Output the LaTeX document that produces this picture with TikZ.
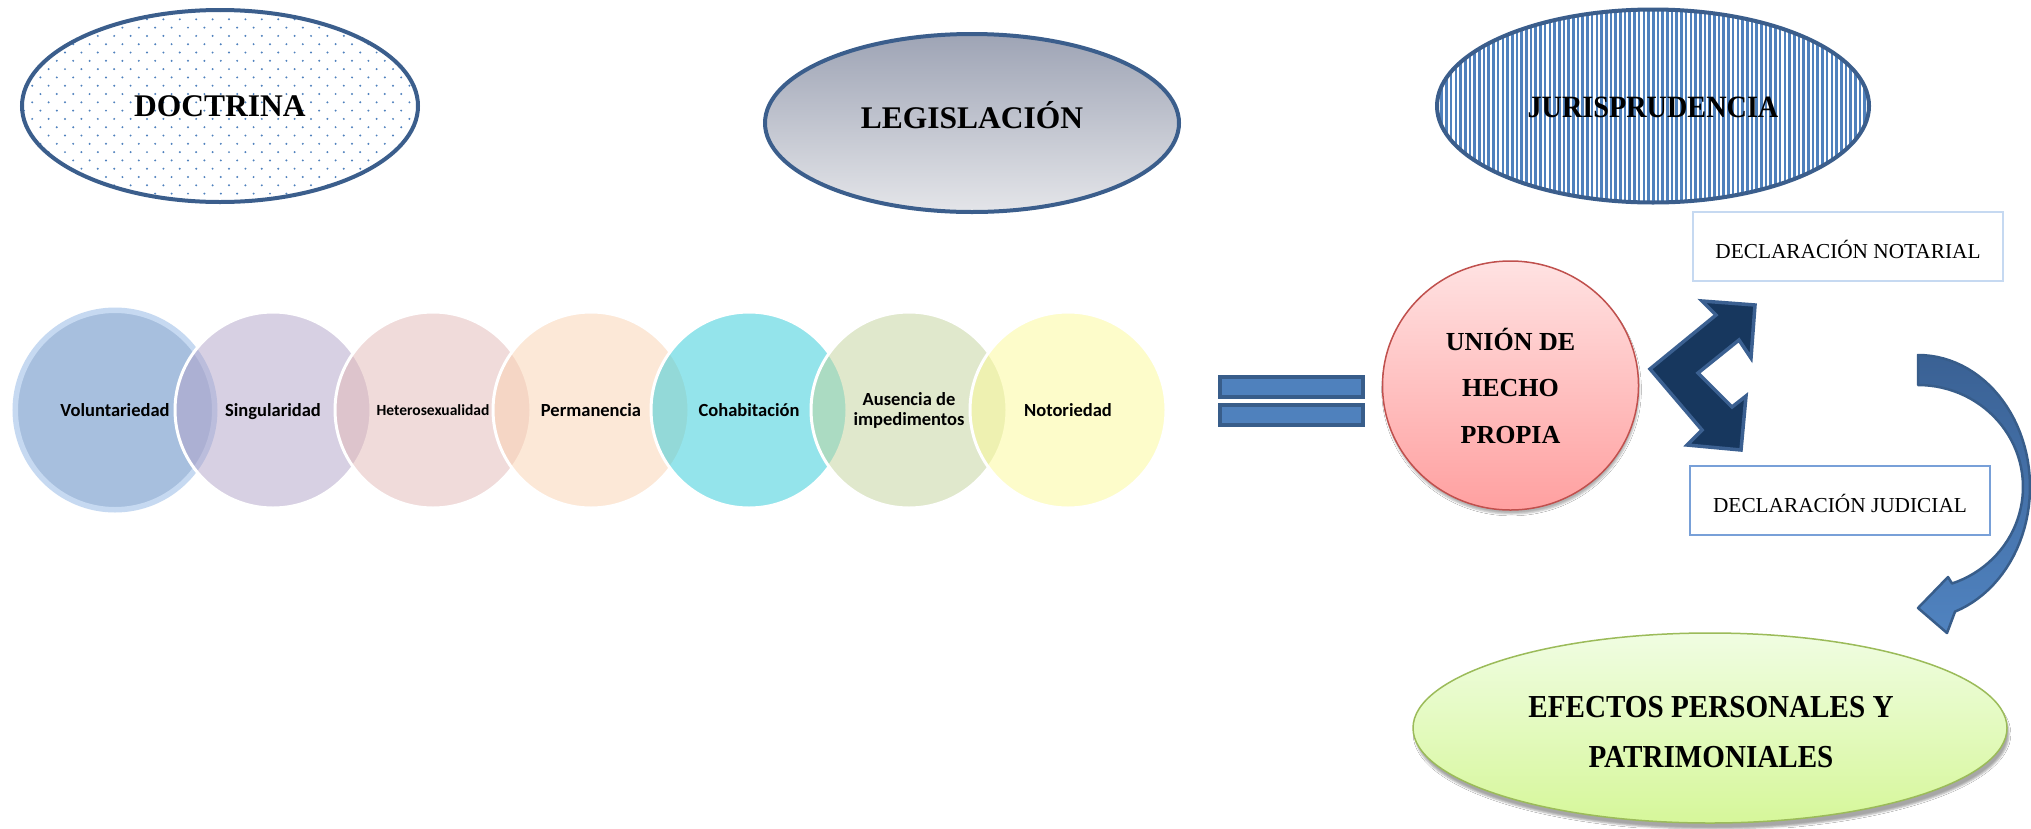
\documentclass[tikz,border=0pt]{standalone}
\usepackage{fontspec}
\setmainfont{Liberation Serif}
\newfontfamily\calfont{Carlito}
\usetikzlibrary{shapes.geometric,shadows.blur,calc}

\definecolor{ebord}{RGB}{59,94,140}
\definecolor{dotc}{RGB}{79,129,189}
\definecolor{stripc}{RGB}{79,129,189}
\definecolor{legtop}{RGB}{158,164,181}
\definecolor{legbot}{RGB}{228,229,233}
\definecolor{volf}{RGB}{167,191,222}
\definecolor{volr}{RGB}{198,217,241}
\definecolor{sinb}{RGB}{177,163,201}
\definecolor{hetb}{RGB}{227,185,183}
\definecolor{perb}{RGB}{251,211,177}
\definecolor{cohb}{RGB}{43,203,217}
\definecolor{ausb}{RGB}{195,211,155}
\definecolor{notb}{RGB}{253,251,151}
\definecolor{boxa}{RGB}{198,217,241}
\definecolor{boxb}{RGB}{120,160,216}
\definecolor{unitop}{RGB}{255,226,226}
\definecolor{unibot}{RGB}{255,160,160}
\definecolor{unibd}{RGB}{192,80,77}
\definecolor{eftop}{RGB}{240,253,226}
\definecolor{efbot}{RGB}{214,247,154}
\definecolor{efbd}{RGB}{155,187,89}
\definecolor{navy}{RGB}{23,55,94}
\definecolor{navybd}{RGB}{59,96,145}
\definecolor{cattop}{RGB}{58,97,148}
\definecolor{catbot}{RGB}{80,131,192}
\definecolor{catbd}{RGB}{56,93,138}
\definecolor{eqf}{RGB}{79,129,189}
\definecolor{eqbd}{RGB}{56,93,138}

\tikzset{
  bigell/.style={ellipse, draw=ebord, line width=4pt, inner sep=0pt, text depth=0pt,
    font=\bfseries\fontsize{31.5}{36}\selectfont},
  venn/.style={circle, inner sep=0pt, minimum size=196pt, draw=white, line width=3pt, fill opacity=0.5},
  vlbl/.style={font=\calfont\bfseries\fontsize{18.5}{20}\selectfont, inner sep=0pt},
  declbox/.style={rectangle, inner sep=0pt, line width=1.5pt, minimum height=69pt,
    text height=24pt, text depth=0pt, font=\fontsize{21.3}{24}\selectfont},
  eqbar/.style={rectangle, fill=eqf, draw=eqbd, line width=4pt, minimum width=143pt,
    minimum height=20pt, inner sep=0pt},
  dblarrow/.style={fill=navy, draw=navybd, line width=3.5pt, line join=miter},
  curvarrow/.style={top color=cattop, bottom color=catbot, draw=catbd, line width=2.5pt, line join=round}
}

\begin{document}
\begin{tikzpicture}[x=1pt,y=-1pt]
\fill[white] (0,0) rectangle (2031,828);
\useasboundingbox (0,0) rectangle (2031,828);

% ---------- DOCTRINA ----------
\coordinate (docc) at (220,106);
\begin{scope}
  \clip (docc) ellipse [x radius=198pt, y radius=96pt];
  \foreach \r in {0,...,23}{
    \pgfmathsetmacro{\xo}{mod(\r,2)*8.2}
    \foreach \c in {0,...,24}{
      \fill[dotc] ({24+\xo+\c*16.4},{11+\r*8.3}) circle [radius=1.1pt];
    }
  }
\end{scope}
\node[bigell, minimum width=396pt, minimum height=192pt, text height=21.4pt] (doc) at (docc) {DOCTRINA};

% ---------- LEGISLACION ----------
\node[bigell, minimum width=414pt, minimum height=178pt, top color=legtop, bottom color=legbot,
  text height=10.6pt] (leg) at (972,123) {LEGISLACIÓN};

% ---------- JURISPRUDENCIA ----------
\coordinate (jurc) at (1653,106);
\begin{scope}
  \clip (jurc) ellipse [x radius=216pt, y radius=96.5pt];
  \foreach \i in {0,...,92}{
    \draw[stripc, line width=2.6pt] ({1437+\i*4.7},0) -- ({1437+\i*4.7},212);
  }
\end{scope}
\node[bigell, minimum width=432pt, minimum height=193pt, text height=22pt,
  font=\bfseries\fontsize{31}{36}\selectfont] (jur) at (jurc) {\scalebox{0.91}[1]{JURISPRUDENCIA}};

% ---------- Venn row ----------
\node[circle, inner sep=0pt, minimum size=199.5pt, fill=volf, draw=volr, line width=5.5pt] (c1) at (115,410) {};
\node[venn, fill=sinb] (c2) at (273,410) {};
\node[venn, fill=hetb] (c3) at (433,410) {};
\node[venn, fill=perb] (c4) at (591,410) {};
\node[venn, fill=cohb] (c5) at (749,410) {};
\node[venn, fill=ausb] (c6) at (909,410) {};
\node[venn, fill=notb] (c7) at (1068,410) {};

\node[vlbl, anchor=base] (t1) at ($(c1)+(0,6.5)$) {Voluntariedad};
\node[vlbl, anchor=base] (t2) at ($(c2)+(0,6.5)$) {Singularidad};
\node[vlbl, anchor=base, font=\calfont\bfseries\fontsize{15.5}{18}\selectfont] (t3) at ($(c3)+(0,5.5)$) {Heterosexualidad};
\node[vlbl, anchor=base] (t4) at ($(c4)+(0,6.5)$) {Permanencia};
\node[vlbl, anchor=base] (t5) at ($(c5)+(0,6.5)$) {Cohabitación};
\node[vlbl, align=center] (t6) at ($(c6)+(0,0.5)$) {Ausencia de\\impedimentos};
\node[vlbl, anchor=base] (t7) at ($(c7)+(0,6.5)$) {Notoriedad};

% ---------- equals ----------
\node[eqbar] (eq1) at (1291.5,387) {};
\node[eqbar] (eq2) at (1291.5,415) {};

% ---------- UNION ----------
\node[ellipse, minimum width=256pt, minimum height=249pt, inner sep=0pt,
  top color=unitop, bottom color=unibot, draw=unibd, line width=1.5pt,
  blur shadow={shadow xshift=1pt, shadow yshift=-4pt, shadow opacity=30},
  align=center, font=\bfseries\fontsize{26}{46.5}\selectfont] (union) at (1510.5,385.5) {UNIÓN DE\\HECHO\\PROPIA};

% ---------- boxes ----------
\node[declbox, draw=boxa, minimum width=310pt] (notar) at (1848,246.5) {DECLARACIÓN NOTARIAL};
\node[declbox, draw=boxb, minimum width=300pt] (judic) at (1840,500.5) {DECLARACIÓN JUDICIAL};

% ---------- double block arrow ----------
\draw[dblarrow] (1650,369) -- (1716,315) -- (1702,301) -- (1755,305) -- (1751,358)
  -- (1739,340) -- (1698,373) -- (1732,407) -- (1746,396) -- (1741,450)
  -- (1687,445) -- (1702,430) -- cycle;

% ---------- curved block arrow ----------
\draw[curvarrow] (1918,355)
  -- plot[domain=-90:70.7, samples=50] ({1918+112*cos(\x)},{487+132*sin(\x)})
  -- (1947,633) -- (1918,608) -- (1948,577)
  -- plot[domain=71.1:-90, samples=50] ({1918+105*cos(\x)},{487+102*sin(\x)})
  -- cycle;

% ---------- EFECTOS ----------
\node[ellipse, minimum width=594pt, minimum height=190pt, inner sep=0pt,
  top color=eftop, bottom color=efbot, draw=efbd, line width=1.5pt,
  blur shadow={shadow xshift=2pt, shadow yshift=-6pt, shadow opacity=35}] (efe) at (1710,728) {};
\node[align=center, inner sep=0pt, font=\bfseries\fontsize{32}{50}\selectfont] (efet) at (1711,732.5)
  {\scalebox{0.91}[1]{EFECTOS PERSONALES Y}\\\scalebox{0.91}[1]{PATRIMONIALES}};

\end{tikzpicture}
\end{document}
